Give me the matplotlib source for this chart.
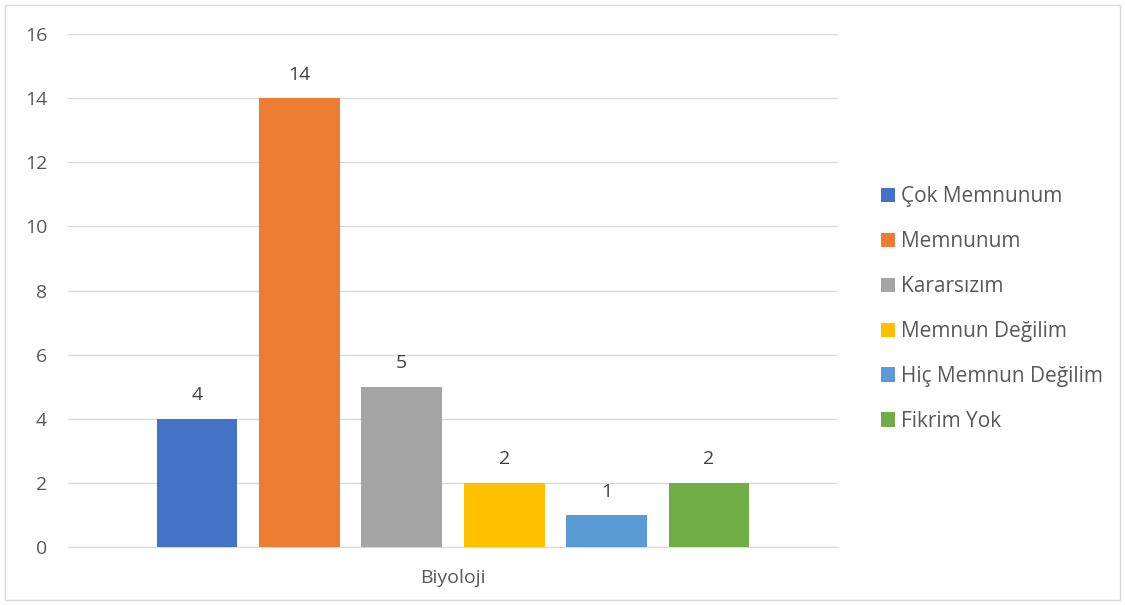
import matplotlib
matplotlib.use("Agg")
import matplotlib.pyplot as plt
from matplotlib.patches import Rectangle

categories = ["Biyoloji"]
series = ["Çok Memnunum", "Memnunum", "Kararsızım", "Memnun Değilim", "Hiç Memnun Değilim", "Fikrim Yok"]
values = [4, 14, 5, 2, 1, 2]
colors = ["#4472C4", "#ED7D31", "#A5A5A5", "#FFC000", "#5B9BD5", "#70AD47"]
yticks = [0, 2, 4, 6, 8, 10, 12, 14, 16]

plt.rcParams['font.family'] = ['Open Sans', 'DejaVu Sans']

W, H = 1125, 605
fig = plt.figure(figsize=(W/100, H/100), dpi=100)
ax = fig.add_axes([68/W, (H-547)/H, (838-68)/W, (547-34)/H])

n = len(series)
offsets = [i - (n-1)/2 for i in range(n)]
for off, v, c, s in zip(offsets, values, colors, series):
    ax.bar(off, v, width=0.79, color=c, label=s, zorder=3)
    ax.text(off, v + 0.45, str(v), ha='center', va='bottom', fontsize=14, color='#404040')

ax.set_xlim(-3.76, 3.76)
ax.set_ylim(0, 16)
ax.set_yticks(yticks)
ax.set_xticks([0])
ax.set_xticklabels(categories)
ax.grid(axis='y', color='#D9D9D9', linewidth=1, zorder=0)
for sp in ['top', 'right', 'left']:
    ax.spines[sp].set_visible(False)
ax.spines['bottom'].set_color('#D9D9D9')
ax.tick_params(axis='both', length=0, labelsize=14, labelcolor='#595959')
ax.tick_params(axis='y', pad=15)
ax.tick_params(axis='x', pad=16)

leg = fig.legend(loc='center left', bbox_to_anchor=(862/W, (H-309)/H), frameon=False,
                 fontsize=15, handlelength=0.68, handleheight=0.68, labelspacing=1.15,
                 handletextpad=0.3, labelcolor='#595959')

fig.patches.append(Rectangle((5/W, 5/H), (W-10)/W, (H-10)/H, transform=fig.transFigure,
                             fill=False, edgecolor='#D9D9D9', linewidth=1))

fig.savefig("out.png", dpi=100)
